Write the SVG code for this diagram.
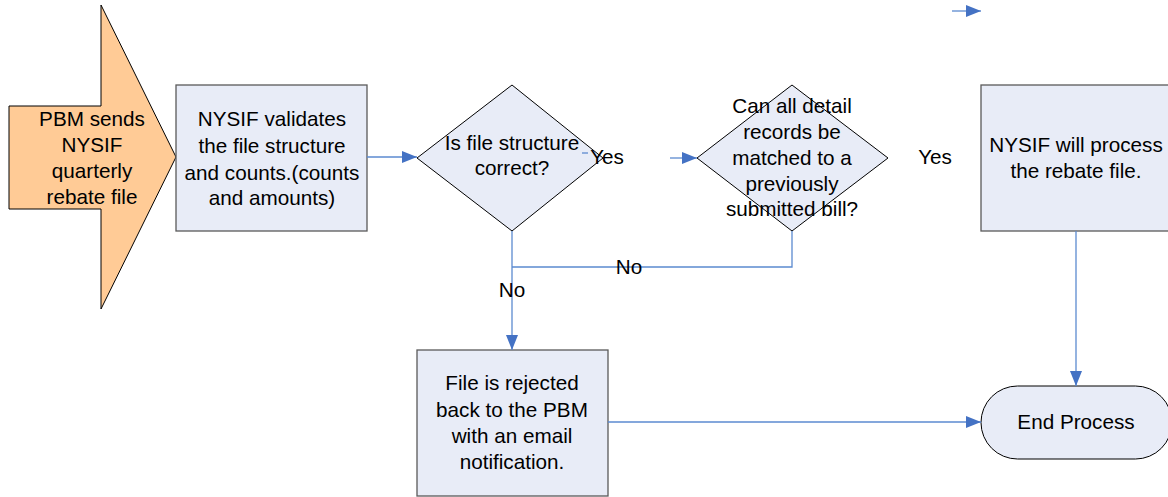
<svg xmlns="http://www.w3.org/2000/svg" width="1168" height="497" viewBox="0 0 1168 497">
<style>
.box{fill:#E8ECF7;stroke:#5a5a5a;stroke-width:1.3}
.dia{fill:#E8ECF7;stroke:#000;stroke-width:1}
.txt{font-family:"Liberation Sans",Arial,sans-serif;font-size:20.7px;fill:#000;text-anchor:middle}
.con{fill:none;stroke:#5B8AD0;stroke-width:1.3}
</style>
<defs>
<marker id="ah" markerUnits="userSpaceOnUse" markerWidth="15" markerHeight="12" refX="15" refY="6" orient="auto">
<path d="M0,0 L15,6 L0,12 Z" fill="#4472C4"/>
</marker>
</defs>
<rect width="1168" height="497" fill="#fff"/>
<g id="start">
<path d="M9,106 L101,106 L101,5 L176,157 L101,309 L101,209 L9,209 Z" fill="#FFCB96" stroke="#000" stroke-width="1"/>
<text class="txt" x="92" y="126">PBM sends</text>
<text class="txt" x="92" y="152">NYSIF</text>
<text class="txt" x="92" y="178">quarterly</text>
<text class="txt" x="92" y="204">rebate file</text>
</g>
<g id="validate">
<rect class="box" x="176" y="85" width="191" height="146"/>
<text class="txt" x="272" y="126">NYSIF validates</text>
<text class="txt" x="272" y="153">the file structure</text>
<text class="txt" x="272" y="180">and counts.(counts</text>
<text class="txt" x="272" y="205">and amounts)</text>
</g>
<g id="decision1">
<path class="dia" d="M512,85 L603,158 L512,231 L417,158 Z"/>
<text class="txt" x="512" y="150">Is file structure</text>
<text class="txt" x="512" y="175">correct?</text>
</g>
<g id="decision2">
<path class="dia" d="M792,85 L888,158 L792,231 L697,158 Z"/>
<text class="txt" x="792" y="113">Can all detail</text>
<text class="txt" x="792" y="139">records be</text>
<text class="txt" x="792" y="165">matched to a</text>
<text class="txt" x="792" y="191">previously</text>
<text class="txt" x="792" y="216">submitted bill?</text>
</g>
<g id="process">
<rect class="box" x="981" y="85" width="191" height="146"/>
<text class="txt" x="1076" y="152">NYSIF will process</text>
<text class="txt" x="1076" y="178">the rebate file.</text>
</g>
<g id="reject">
<rect class="box" x="417" y="350" width="191" height="146"/>
<text class="txt" x="512" y="390">File is rejected</text>
<text class="txt" x="512" y="417">back to the PBM</text>
<text class="txt" x="512" y="443">with an email</text>
<text class="txt" x="512" y="469">notification.</text>
</g>
<g id="end">
<rect x="981" y="386" width="191" height="73" rx="36.5" ry="36.5" fill="#E8ECF7" stroke="#000" stroke-width="1"/>
<text class="txt" x="1076" y="429">End Process</text>
</g>
<g id="connectors">
<path class="con" d="M367,157 L417,157" marker-end="url(#ah)"/>
<path class="con" d="M582,153 L588,153"/>
<path class="con" d="M670,158 L697,158" marker-end="url(#ah)"/>
<path class="con" d="M952,11 L981,11" marker-end="url(#ah)"/>
<path class="con" d="M512,231 L512,350" marker-end="url(#ah)"/>
<path class="con" d="M792,231 L792,267 L512,267"/>
<path class="con" d="M1076,231 L1076,386" marker-end="url(#ah)"/>
<path class="con" d="M608,422 L981,422" marker-end="url(#ah)"/>
<text class="txt" x="607" y="164">Yes</text>
<text class="txt" x="935" y="164">Yes</text>
<text class="txt" x="629" y="274">No</text>
<text class="txt" x="512" y="297">No</text>
</g>
</svg>
